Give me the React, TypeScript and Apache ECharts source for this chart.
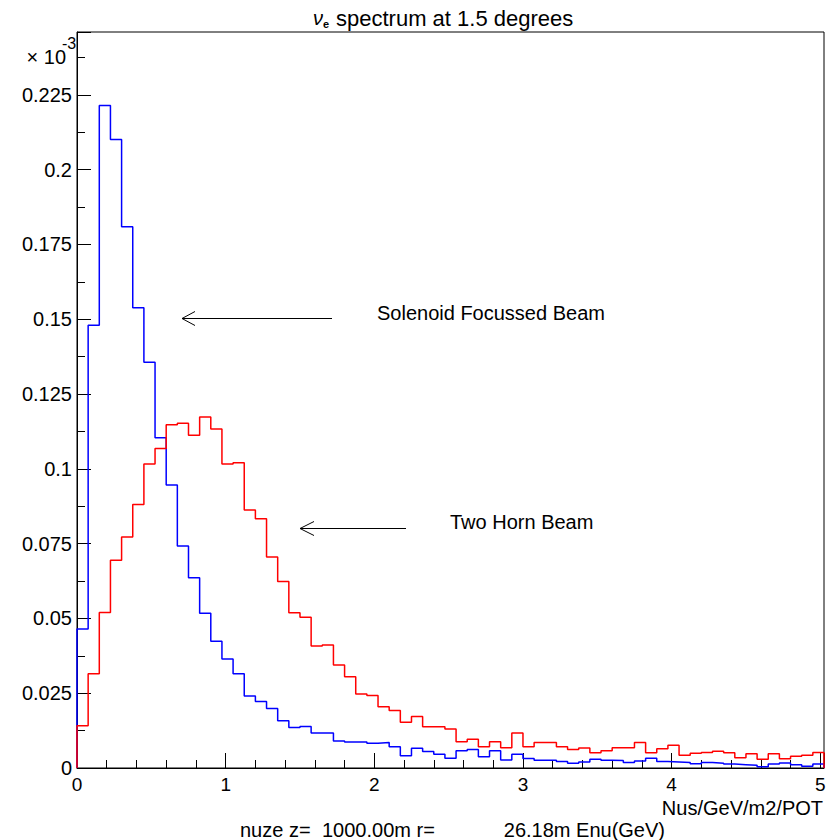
import React, { useEffect, useRef } from 'react';
import * as echarts from 'echarts';

// Histogram binning (GeV)
const BIN_WIDTH = 0.075;
const X_MAX = 5.025;
const Y_MAX = 0.246;

// Tick labels
const xTickLabels = ['0', '1', '2', '3', '4', '5'];
const yTickLabels = ['0', '0.025', '0.05', '0.075', '0.1', '0.125', '0.15', '0.175', '0.2', '0.225'];

// Bin contents (x 10^-3 Nus/GeV/m2/POT), one value per 0.075 GeV bin
const solenoidBeam = [
  0.0465, 0.148, 0.2214, 0.2101, 0.1809, 0.1538, 0.1356, 0.1104, 0.0946, 0.0742,
  0.0636, 0.0517, 0.0424, 0.0364, 0.0315, 0.0241, 0.0222, 0.0199, 0.0158, 0.0135,
  0.0139, 0.0117, 0.0117, 0.009, 0.0087, 0.0087, 0.0083, 0.0085, 0.0071, 0.0041,
  0.0066, 0.0055, 0.0046, 0.0033, 0.0058, 0.0062, 0.0038, 0.0058, 0.0027, 0.0046,
  0.0032, 0.0026, 0.0026, 0.0022, 0.0016, 0.002, 0.0029, 0.0026, 0.0025, 0.0018,
  0.0023, 0.0033, 0.0022, 0.002, 0.0018, 0.0014, 0.0018, 0.0016, 0.0013, 0.0011,
  0.0009, 0.0004, 0.0013, 0.0017, 0.0011, 0.0006, 0.0013,
];

const twoHornBeam = [
  0.0141, 0.0315, 0.052, 0.0694, 0.0772, 0.0881, 0.1016, 0.1068, 0.1147, 0.1152,
  0.1112, 0.1173, 0.1133, 0.1016, 0.102, 0.0862, 0.0833, 0.0705, 0.0623, 0.0519,
  0.0504, 0.0408, 0.0411, 0.0344, 0.0305, 0.0247, 0.0242, 0.0205, 0.0192, 0.0153,
  0.0172, 0.0138, 0.0138, 0.013, 0.0088, 0.0096, 0.0071, 0.0088, 0.0068, 0.0117,
  0.0071, 0.0085, 0.0085, 0.0071, 0.0062, 0.0067, 0.0051, 0.0058, 0.0068, 0.0068,
  0.0085, 0.0051, 0.0064, 0.0076, 0.0043, 0.0049, 0.0052, 0.0056, 0.0051, 0.0034,
  0.0048, 0.0029, 0.0048, 0.0031, 0.0039, 0.0043, 0.0052,
];

function toSteps(values: number[]): number[][] {
  const pts: number[][] = [[0, 0]];
  values.forEach((v, i) => pts.push([+(i * BIN_WIDTH).toFixed(4), v]));
  const end = +(values.length * BIN_WIDTH).toFixed(4);
  pts.push([end, values[values.length - 1]]);
  pts.push([end, 0]);
  return pts;
}

const FONT = '"Liberation Sans", Arial, sans-serif';

export default function App() {
  const ref = useRef<HTMLDivElement>(null);
  useEffect(() => {
    document.body.style.margin = '0';
    const chart = echarts.init(ref.current as HTMLDivElement, null, { renderer: 'svg' });
    chart.setOption({
      animation: false,
      backgroundColor: '#ffffff',
      grid: {
        left: 77,
        right: 14,
        top: 32,
        bottom: 72,
        show: true,
        borderColor: '#000',
        borderWidth: 1,
        backgroundColor: 'transparent',
      },
      xAxis: {
        type: 'value',
        min: 0,
        max: X_MAX,
        interval: 1,
        splitLine: { show: false },
        axisLine: { show: true, onZero: false, lineStyle: { color: '#000', width: 1 } },
        axisTick: { show: true, inside: true, length: 15, lineStyle: { color: '#000' } },
        minorTick: { show: true, splitNumber: 5, length: 8, lineStyle: { color: '#000' } },
        axisLabel: {
          color: '#000',
          fontFamily: FONT,
          fontSize: 19,
          margin: 7,
          lineHeight: 19,
          formatter: (v: number) => {
            const s = String(+v.toFixed(3));
            return xTickLabels.includes(s) ? s : '';
          },
        },
      },
      yAxis: {
        type: 'value',
        min: 0,
        max: Y_MAX,
        interval: 0.025,
        splitLine: { show: false },
        axisLine: { show: true, lineStyle: { color: '#000', width: 1 } },
        axisTick: { show: true, inside: true, length: 14, lineStyle: { color: '#000' } },
        minorTick: { show: true, splitNumber: 2, length: 8, lineStyle: { color: '#000' } },
        axisLabel: {
          color: '#000',
          fontFamily: FONT,
          fontSize: 20,
          margin: 5,
          formatter: (v: number) => {
            const s = String(+v.toFixed(4));
            return yTickLabels.includes(s) ? s : '';
          },
        },
      },
      series: [
        {
          name: 'Solenoid Focussed Beam',
          type: 'line',
          step: 'end',
          showSymbol: false,
          symbol: 'none',
          data: toSteps(solenoidBeam),
          lineStyle: { color: '#0000ff', width: 1.5 },
          z: 3,
        },
        {
          name: 'Two Horn Beam',
          type: 'line',
          step: 'end',
          showSymbol: false,
          symbol: 'none',
          data: toSteps(twoHornBeam),
          lineStyle: { color: '#ff0000', width: 1.5 },
          z: 4,
        },
      ],
      graphic: [
        // title
        { type: 'text', x: 313, y: 18, style: { text: 'ν', fontSize: 20, fontStyle: 'italic', fontFamily: FONT, fill: '#000', verticalAlign: 'middle' } },
        { type: 'text', x: 323, y: 24, style: { text: 'e', fontSize: 11, fontWeight: 'bold', fontFamily: FONT, fill: '#000', verticalAlign: 'middle' } },
        { type: 'text', x: 336, y: 18, style: { text: 'spectrum at 1.5 degrees', fontSize: 22, fontFamily: FONT, fill: '#000', verticalAlign: 'middle' } },
        // exponent
        { type: 'text', x: 66, y: 57, style: { text: '× 10', fontSize: 20, fontFamily: FONT, fill: '#000', align: 'right', verticalAlign: 'middle' } },
        { type: 'text', x: 62, y: 43, style: { text: '-3', fontSize: 16, fontFamily: FONT, fill: '#000', align: 'left', verticalAlign: 'middle' } },
        // annotations
        { type: 'line', shape: { x1: 182, y1: 318.5, x2: 332, y2: 318.5 }, style: { stroke: '#000', lineWidth: 1 } },
        { type: 'polyline', shape: { points: [[195, 311.5], [182, 318.5], [195, 325.5]] }, style: { stroke: '#000', fill: null, lineWidth: 1 } },
        { type: 'text', x: 377, y: 313, style: { text: 'Solenoid Focussed Beam', fontSize: 20, fontFamily: FONT, fill: '#000', verticalAlign: 'middle' } },
        { type: 'line', shape: { x1: 300, y1: 528.5, x2: 406, y2: 528.5 }, style: { stroke: '#000', lineWidth: 1 } },
        { type: 'polyline', shape: { points: [[314, 521.5], [300, 528.5], [314, 535.5]] }, style: { stroke: '#000', fill: null, lineWidth: 1 } },
        { type: 'text', x: 450, y: 522, style: { text: 'Two Horn Beam', fontSize: 20, fontFamily: FONT, fill: '#000', verticalAlign: 'middle' } },
        // axis titles
        { type: 'text', x: 823, y: 808, style: { text: 'Nus/GeV/m2/POT', fontSize: 20, fontFamily: FONT, fill: '#000', align: 'right', verticalAlign: 'middle' } },
        { type: 'text', x: 240, y: 830, style: { text: 'nuze z=', fontSize: 20, fontFamily: FONT, fill: '#000', verticalAlign: 'middle' } },
        { type: 'text', x: 322, y: 830, style: { text: '1000.00m r=', fontSize: 20, fontFamily: FONT, fill: '#000', verticalAlign: 'middle' } },
        { type: 'text', x: 665, y: 830, style: { text: '26.18m Enu(GeV)', fontSize: 20, fontFamily: FONT, fill: '#000', align: 'right', verticalAlign: 'middle' } },
      ],
    });
    return () => chart.dispose();
  }, []);
  return <div ref={ref} style={{ width: 838, height: 840 }} />;
}
